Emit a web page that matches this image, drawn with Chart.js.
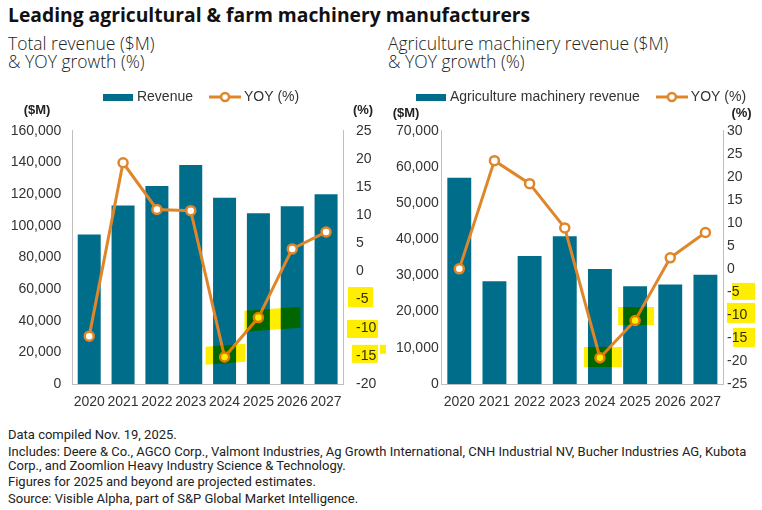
<!DOCTYPE html>
<html>
<head>
<meta charset="utf-8">
<script src="https://cdn.jsdelivr.net/npm/chart.js@4.4.0/dist/chart.umd.min.js"></script>
<style>
  body { margin: 0; width: 762px; height: 510px; background: #fff; position: relative; overflow: hidden;
         font-family: Roboto, "Liberation Sans", sans-serif; color: #222; }
  .title { position: absolute; left: 8px; top: 3px; font-family: "Open Sans", sans-serif; font-size: 19.3px; line-height: 24px; font-weight: bold; white-space: nowrap; color: #111; }
  .sub { position: absolute; top: 34px; font-family: "Open Sans", sans-serif; font-size: 17.5px; line-height: 18.3px; font-weight: 300; color: #222; white-space: nowrap; }
  #sub1 { left: 8px; }
  #sub2 { left: 388px; }
  .box { position: absolute; top: 70px; }
  #boxLeft { left: 0; }
  #boxRight { left: 380px; }
  .notes { position: absolute; left: 8px; top: 428px; font-size: 13px; line-height: 14px; color: #222; }
  .notes p { margin: 0 0 2.5px 0; white-space: nowrap; }
</style>
</head>
<body>
<div class="title">Leading agricultural &amp; farm machinery manufacturers</div>
<div class="sub" id="sub1">Total revenue ($M)<br>&amp; YOY growth (%)</div>
<div class="sub" id="sub2">Agriculture machinery revenue ($M)<br>&amp; YOY growth (%)</div>
<div class="box" id="boxLeft"><canvas id="totalChart" width="380" height="350"></canvas></div>
<div class="box" id="boxRight"><canvas id="agChart" width="382" height="350"></canvas></div>
<div class="notes">
  <p>Data compiled Nov. 19, 2025.</p>
  <p>Includes: Deere &amp; Co., AGCO Corp., Valmont Industries, Ag Growth International, CNH Industrial NV, Bucher Industries AG, Kubota<br>Corp., and Zoomlion Heavy Industry Science &amp; Technology.</p>
  <p>Figures for 2025 and beyond are projected estimates.</p>
  <p>Source: Visible Alpha, part of S&amp;P Global Market Intelligence.</p>
</div>
<script>
// data
const years = ['2020', '2021', '2022', '2023', '2024', '2025', '2026', '2027'];
const totalRevenue = [94500, 112800, 125000, 138300, 117700, 107800, 112200, 119800];
const totalYoy = [-11.5, 19.3, 11.0, 10.8, -15.2, -8.2, 4.0, 7.0];
const agRevenue = [57000, 28400, 35400, 40800, 31800, 27000, 27500, 30200];
const agYoy = [0.0, 23.5, 18.5, 8.9, -19.3, -11.2, 2.4, 7.9];
const totalRevenueTicks = [0, 20000, 40000, 60000, 80000, 100000, 120000, 140000, 160000];
const totalYoyTicks = [-20, -15, -10, -5, 0, 5, 10, 15, 20, 25];
const agRevenueTicks = [0, 10000, 20000, 30000, 40000, 50000, 60000, 70000];
const agYoyTicks = [-25, -20, -15, -10, -5, 0, 5, 10, 15, 20, 25, 30];

const TEAL = '#006E8A';
const ORANGE = '#E0862A';
const AXIS = '#BFBFBF';
const TEXT = '#333333';

Chart.defaults.font.family = '"Liberation Sans", Arial, sans-serif';
Chart.defaults.font.size = 14;
Chart.defaults.color = TEXT;

// legend symbols
function barSwatch() {
  let c = document.createElement('canvas');
  c.width = 30; c.height = 7;
  let g = c.getContext('2d');
  g.fillStyle = TEAL;
  g.fillRect(0, 0, 30, 7);
  return c;
}
function lineSwatch() {
  let c = document.createElement('canvas');
  c.width = 32; c.height = 12;
  let g = c.getContext('2d');
  g.strokeStyle = ORANGE;
  g.lineWidth = 3;
  g.beginPath(); g.moveTo(0, 6); g.lineTo(32, 6); g.stroke();
  g.fillStyle = '#fff';
  g.lineWidth = 2.5;
  g.beginPath(); g.arc(16, 6, 4, 0, Math.PI * 2); g.fill(); g.stroke();
  return c;
}
const swatches = [barSwatch(), lineSwatch()];

// extra room under the legend, and nudge it sideways
const legendGap = {
  id: 'legendGap',
  beforeInit(chart) {
    const fit = chart.legend.fit;
    chart.legend.fit = function () {
      fit.call(this);
      this.height += 16.7;
    };
  },
  afterLayout(chart, args, opts) {
    chart.legend.left += opts.shift;
    chart.legend.right += opts.shift;
  }
};

// "($M)" and "(%)" above the axes
const unitLabels = {
  id: 'unitLabels',
  afterDraw(chart, args, opts) {
    const { ctx, chartArea, scales } = chart;
    ctx.save();
    ctx.font = 'bold 13px "Liberation Sans", Arial, sans-serif';
    ctx.fillStyle = '#222';
    ctx.textAlign = 'center';
    ctx.textBaseline = 'middle';
    ctx.fillText('($M)', scales.y.left + opts.leftDx, chartArea.top - opts.dy);
    ctx.fillText('(%)', scales.y1.left + opts.rightDx, chartArea.top - opts.dy);
    ctx.restore();
  }
};

// highlighter marks, multiplied over the drawing
const highlights = {
  id: 'highlights',
  afterDatasetsDraw(chart, args, opts) {
    const { ctx, chartArea, scales } = chart;
    ctx.save();
    ctx.globalCompositeOperation = 'multiply';
    ctx.fillStyle = 'rgb(255, 238, 0)';
    opts.marks.forEach(function (m) {
      let xr = m.at === 'right' ? chartArea.right : m.at === 'edge' ? 0 : scales.x.getPixelForValue(m.at);
      let yr = scales[m.axis].getPixelForValue(m.value);
      let x0 = xr + m.dx[0], x1 = xr + m.dx[1];
      let y0 = yr + m.dy[0], y1 = yr + m.dy[1];
      let s = m.skew || 0;
      ctx.beginPath();
      ctx.moveTo(x0, y0 + s);
      ctx.lineTo(x1, y0);
      ctx.lineTo(x1, y1);
      ctx.lineTo(x0, y1 + s);
      ctx.closePath();
      ctx.fill();
    });
    ctx.restore();
  }
};

function makeChart(el, cfg) {
  return new Chart(el, {
    type: 'bar',
    data: {
      labels: years,
      datasets: [{
        type: 'bar',
        label: cfg.barLabel,
        data: cfg.bars,
        backgroundColor: TEAL,
        barPercentage: 0.68,
        categoryPercentage: 1.0,
        yAxisID: 'y',
        order: 1
      },
      {
        type: 'line',
        label: 'YOY (%)',
        data: cfg.yoy,
        borderColor: ORANGE,
        borderWidth: 3,
        pointRadius: 4.5,
        pointBorderWidth: 2.5,
        pointBackgroundColor: '#fff',
        pointBorderColor: ORANGE,
        tension: 0,
        yAxisID: 'y1',
        order: 0
      }]
    },
    options: {
      responsive: false,
      animation: false,
      layout: { padding: 0 },
      plugins: {
        legend: {
          labels: {
            usePointStyle: true,
            pointStyleWidth: 24,
            padding: 20,
            color: TEXT,
            font: { size: 14 },
            sort: function (a, b) { return a.datasetIndex - b.datasetIndex; },
            generateLabels: function (chart) {
              let items = Chart.defaults.plugins.legend.labels.generateLabels(chart);
              items.forEach(function (it) { it.pointStyle = swatches[it.datasetIndex]; });
              return items;
            }
          }
        },
        tooltip: { enabled: false },
        legendGap: { shift: cfg.legendShift },
        unitLabels: cfg.units,
        highlights: { marks: cfg.marks }
      },
      scales: {
        x: {
          grid: { display: false, drawTicks: false },
          border: { display: true, color: AXIS },
          ticks: { padding: 10, font: { size: 14 }, color: TEXT, maxRotation: 0, minRotation: 0, autoSkip: false },
          afterFit: function (s) { s.height = 36; }
        },
        y: {
          position: 'left',
          min: cfg.leftTicks[0],
          max: cfg.leftTicks[cfg.leftTicks.length - 1],
          grid: { display: false, drawTicks: false },
          border: { display: true, color: AXIS },
          ticks: {
            stepSize: cfg.leftTicks[1] - cfg.leftTicks[0],
            padding: cfg.leftPad,
            color: TEXT,
            callback: function (v) { return v.toLocaleString('en-US'); }
          },
          afterFit: function (s) { s.width = cfg.leftWidth; }
        },
        y1: {
          position: 'right',
          min: cfg.rightTicks[0],
          max: cfg.rightTicks[cfg.rightTicks.length - 1],
          grid: { display: false, drawTicks: false },
          border: { display: true, color: AXIS },
          ticks: {
            stepSize: cfg.rightTicks[1] - cfg.rightTicks[0],
            padding: cfg.rightPad,
            color: TEXT
          },
          afterFit: function (s) { s.width = cfg.rightWidth; }
        }
      }
    },
    plugins: [legendGap, unitLabels, highlights]
  });
}

// Total revenue chart
let totalChart = makeChart(document.getElementById('totalChart'), {
  barLabel: 'Revenue',
  bars: totalRevenue,
  yoy: totalYoy,
  leftTicks: totalRevenueTicks,
  rightTicks: totalYoyTicks,
  legendShift: 12.6,
  leftWidth: 72.3,
  rightWidth: 37,
  leftPad: 11,
  rightPad: 13,
  units: { leftDx: 37, rightDx: 20, dy: 20.7 },
  marks: [
    { at: 'right', dx: [5, 30], axis: 'y1', value: -5, dy: [-12.5, 7.5] },
    { at: 'right', dx: [4, 35], axis: 'y1', value: -10, dy: [-7.7, 10.3] },
    { at: 'right', dx: [9, 35], axis: 'y1', value: -15, dy: [-11, 7] },
    { at: 4, dx: [-19, 21], axis: 'y1', value: -15, dy: [-12, 6], skew: 3 },
    { at: 5, dx: [-14, 42], axis: 'y1', value: -10, dy: [-21, 0], skew: 4 }
  ]
});

// Agriculture machinery revenue chart
let agChart = makeChart(document.getElementById('agChart'), {
  barLabel: 'Agriculture machinery revenue',
  bars: agRevenue,
  yoy: agYoy,
  leftTicks: agRevenueTicks,
  rightTicks: agYoyTicks,
  legendShift: 11.5,
  leftWidth: 61.7,
  rightWidth: 39,
  leftPad: 3,
  rightPad: 4,
  units: { leftDx: 26, rightDx: 18.5, dy: 17.7 },
  marks: [
    { at: 'right', dx: [9, 32], axis: 'y1', value: -5, dy: [-9, 8] },
    { at: 'right', dx: [4, 32], axis: 'y1', value: -10, dy: [-12, 8] },
    { at: 'right', dx: [10, 32], axis: 'y1', value: -15, dy: [-10, 9] },
    { at: 4, dx: [-16, 22], axis: 'y1', value: -20, dy: [-14, 6] },
    { at: 5, dx: [-17, 19], axis: 'y1', value: -10, dy: [-8, 10] },
    { at: 'edge', dx: [0, 6], axis: 'y', value: 10000, dy: [-3, 6] }
  ]
});
</script>
</body>
</html>
